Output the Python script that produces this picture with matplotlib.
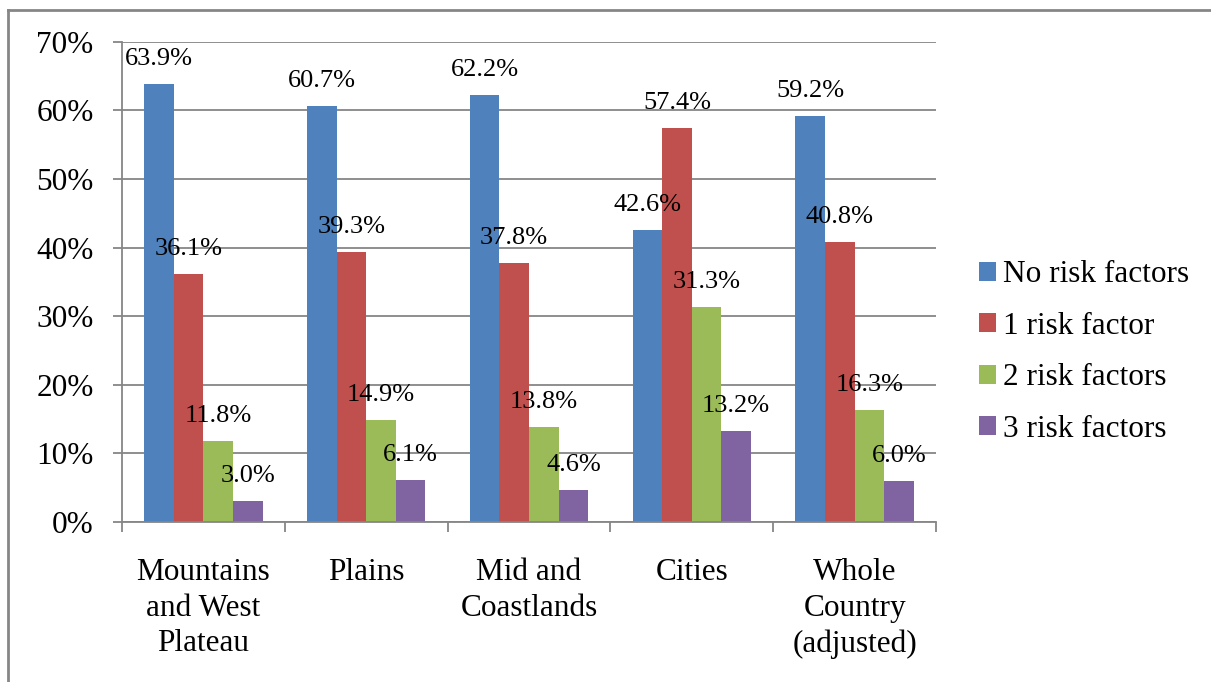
import matplotlib
matplotlib.use("Agg")
import matplotlib.pyplot as plt
from matplotlib.lines import Line2D
import numpy as np

categories = ["Mountains\nand West\nPlateau", "Plains", "Mid and\nCoastlands", "Cities", "Whole\nCountry\n(adjusted)"]
series_names = ["No risk factors", "1 risk factor", "2 risk factors", "3 risk factors"]
no_risk = [63.9, 60.7, 62.2, 42.6, 59.2]
one_risk = [36.1, 39.3, 37.8, 57.4, 40.8]
two_risk = [11.8, 14.9, 13.8, 31.3, 16.3]
three_risk = [3.0, 6.1, 4.6, 13.2, 6.0]
yticks = [0, 10, 20, 30, 40, 50, 60, 70]
ytick_labels = ["0%", "10%", "20%", "30%", "40%", "50%", "60%", "70%"]
colors = ["#4F81BD", "#C0504D", "#9BBB59", "#8064A2"]

plt.rcParams['font.family'] = ['Liberation Serif', 'DejaVu Serif']

W, H = 1211, 682
fig = plt.figure(figsize=(W / 100, H / 100), dpi=100)
ax = fig.add_axes([122 / W, 1 - 522 / H, (936 - 122) / W, (522 - 41.7) / H])

series = [no_risk, one_risk, two_risk, three_risk]
x = np.arange(len(categories))
bw = 1 / 5.5
grid_c = "#868686"
for i, (vals, c, name) in enumerate(zip(series, colors, series_names)):
    pos = x + (i - 1.5) * bw
    ax.bar(pos, vals, width=bw, color=c, edgecolor='none', label=name, zorder=2)
    for px, v in zip(pos, vals):
        ax.annotate(f"{v:.1f}%", (px, v), xytext=(0, 18), textcoords='offset points',
                    ha='center', va='center', fontsize=19, zorder=5)

ax.set_xlim(-0.5, len(categories) - 0.5)
ax.set_ylim(0, 70)
ax.set_yticks(yticks)
ax.set_yticklabels(ytick_labels, fontsize=22.5)
ax.yaxis.grid(True, color=grid_c, linewidth=1.3, zorder=0)
ax.set_axisbelow(True)

ax.set_xticks(x)
ax.set_xticklabels(categories, fontsize=22.5, linespacing=1.3)
ax.set_xticks(np.arange(-0.5, len(categories)), minor=True)
ax.tick_params(axis='x', which='major', length=0, pad=26)
ax.tick_params(axis='x', which='minor', length=7.5, width=1.3, color=grid_c)
ax.tick_params(axis='y', length=6.5, width=1.3, color=grid_c, pad=14)

for s in ['top', 'right']:
    ax.spines[s].set_visible(False)
for s in ['left', 'bottom']:
    ax.spines[s].set_color(grid_c)
    ax.spines[s].set_linewidth(1.3)

leg = fig.legend(loc='center left', bbox_to_anchor=(979 / W, 1 - 352 / H),
                 frameon=False, fontsize=22.5, handlelength=0.54, handleheight=0.54,
                 handletextpad=0.22, labelspacing=0.72, borderpad=0, borderaxespad=0)

# outer frame
fig.add_artist(Line2D([7.5 / W, 7.5 / W], [0, 1 - 10 / H], transform=fig.transFigure,
                      color=grid_c, linewidth=2))
fig.add_artist(Line2D([7.5 / W, 1], [1 - 10 / H, 1 - 10 / H], transform=fig.transFigure,
                      color=grid_c, linewidth=2))

fig.savefig("out.png", dpi=100)
